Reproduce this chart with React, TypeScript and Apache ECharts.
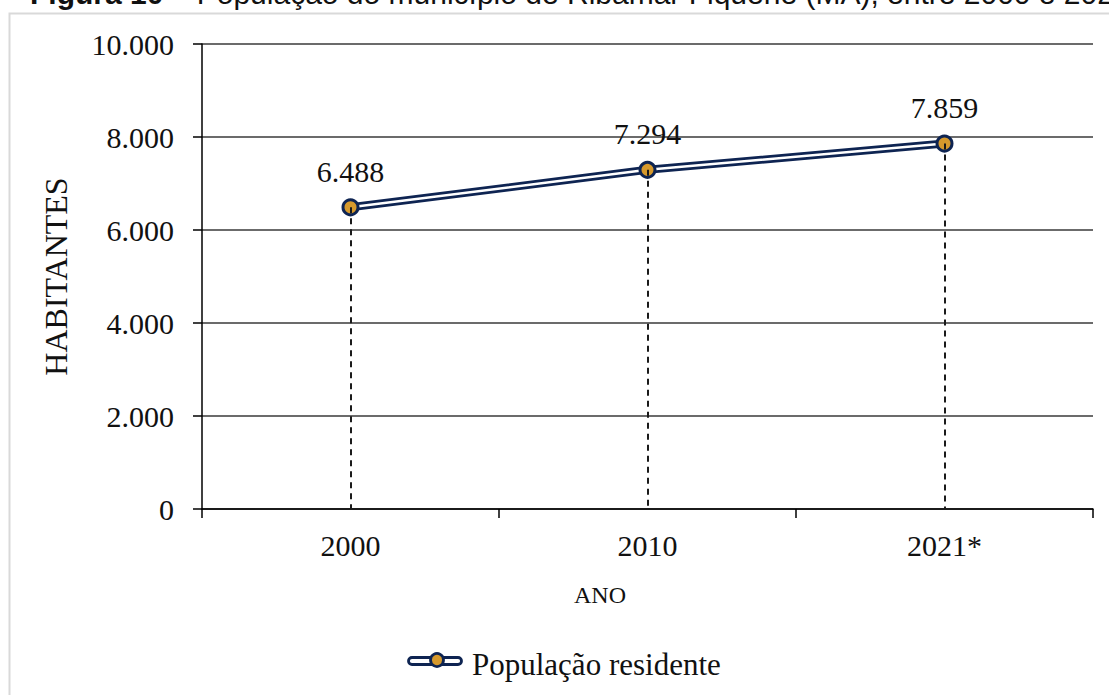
import React, { useEffect, useRef } from "react";
import * as echarts from "echarts";

// Resident population by census year
const years = ["2000", "2010", "2021*"];
const population = [6488, 7294, 7859];
const yTicks = [0, 2000, 4000, 6000, 8000, 10000];

const seriesName = "População residente";
const navy = "#0e2452";
const gold = "#d6992c";
const serif = "Liberation Serif";
const sans = "Liberation Sans";

const fmt = (v: number) => String(v).replace(/\B(?=(\d{3})+(?!\d))/g, ".");

export default function App() {
  const ref = useRef<HTMLDivElement>(null);

  useEffect(() => {
    if (!ref.current) return;
    const chart = echarts.init(ref.current, null, { renderer: "svg" });

    const points = years.map((y, i) => [y, population[i]]);
    const dropLines = years.map((y, i) => [
      { coord: [y, population[i]] },
      { coord: [y, yTicks[0]] },
    ]);

    // legend swatch: double line with a round marker, drawn beside the legend text
    const keyX = 407;
    const keyY = 661;
    const keyW = 56;

    chart.setOption({
      animation: false,
      backgroundColor: "#ffffff",
      graphic: [
        {
          type: "rect",
          shape: { x: 9.5, y: 13.5, width: 1300, height: 900 },
          style: { fill: "none", stroke: "#d9d9d9", lineWidth: 2 },
          silent: true,
        },
        {
          type: "text",
          x: 30,
          y: 8,
          style: {
            text: "{b|Figura 10} – População do município de Ribamar Fiquene (MA), entre 2000 e 2021",
            verticalAlign: "bottom",
            fontFamily: sans,
            fontSize: 30,
            fill: "#111",
            rich: {
              b: { fontWeight: "bold", fontSize: 30, fontFamily: sans },
            },
          },
          silent: true,
        },
        {
          type: "text",
          x: 600,
          y: 595,
          style: {
            text: "ANO",
            align: "center",
            verticalAlign: "middle",
            fontFamily: serif,
            fontSize: 24,
            fill: "#111",
          },
          silent: true,
        },
        {
          type: "group",
          z: 10,
          silent: true,
          children: [
            {
              type: "rect",
              shape: { x: keyX + 1.5, y: keyY - 3.5, width: keyW - 3, height: 7, r: 3.5 },
              style: { fill: "#ffffff", stroke: navy, lineWidth: 2.8 },
            },
            {
              type: "circle",
              shape: { cx: keyX + 30, cy: keyY - 1, r: 6.5 },
              style: { fill: gold, stroke: navy, lineWidth: 2.8 },
            },
          ],
        },
      ],
      grid: { left: 202, right: 16, top: 44, bottom: 186, containLabel: false },
      legend: {
        data: [seriesName],
        left: keyX,
        top: keyY - 17,
        itemWidth: keyW,
        itemHeight: 16,
        itemGap: 4,
        itemStyle: { opacity: 0 },
        lineStyle: { opacity: 0 },
        textStyle: { fontFamily: serif, fontSize: 31, color: "#111", padding: [0, 0, 0, -2] },
      },
      xAxis: {
        type: "category",
        data: years,
        boundaryGap: true,
        axisLine: { show: true, lineStyle: { color: "#000", width: 1.5 } },
        axisTick: { show: true, length: 9, lineStyle: { color: "#000", width: 1.5 } },
        axisLabel: { fontFamily: serif, fontSize: 30, color: "#111", margin: 21 },
      },
      yAxis: {
        type: "value",
        min: yTicks[0],
        max: yTicks[yTicks.length - 1],
        interval: yTicks[1] - yTicks[0],
        name: "HABITANTES",
        nameLocation: "middle",
        nameRotate: 90,
        nameGap: 130,
        nameTextStyle: { fontFamily: serif, fontSize: 32, color: "#111" },
        axisLine: { show: true, lineStyle: { color: "#000", width: 1.5 } },
        axisTick: { show: true, length: 9, lineStyle: { color: "#000", width: 1.5 } },
        axisLabel: {
          fontFamily: serif,
          fontSize: 30,
          color: "#111",
          margin: 28,
          formatter: (v: number) => fmt(v),
        },
        splitLine: { show: true, lineStyle: { color: "#3a3a3a", width: 1.5 } },
      },
      series: [
        {
          // outer dark stroke of the double line
          name: seriesName,
          type: "line",
          data: points,
          z: 2,
          symbol: "none",
          lineStyle: { color: navy, width: 8 },
        },
        {
          // white core of the double line
          name: "core",
          type: "line",
          data: points,
          z: 3,
          symbol: "none",
          silent: true,
          lineStyle: { color: "#ffffff", width: 2.5 },
        },
        {
          // markers, value labels and dashed drop lines on top
          name: "markers",
          type: "scatter",
          data: points,
          z: 4,
          symbol: "circle",
          symbolSize: 15,
          itemStyle: { color: gold, borderColor: navy, borderWidth: 3, opacity: 1 },
          label: {
            show: true,
            position: "top",
            distance: 12,
            fontFamily: serif,
            fontSize: 30,
            color: "#111",
            formatter: (p: any) => fmt(p.value[1]),
          },
          markLine: {
            silent: true,
            symbol: "none",
            label: { show: false },
            lineStyle: { color: "#1a1a1a", width: 2, type: [6, 5] },
            data: dropLines,
          },
        },
      ],
    });

    return () => chart.dispose();
  }, []);

  return (
    <div
      ref={ref}
      style={{ position: "fixed", left: 0, top: 0, width: 1109, height: 695 }}
    />
  );
}
